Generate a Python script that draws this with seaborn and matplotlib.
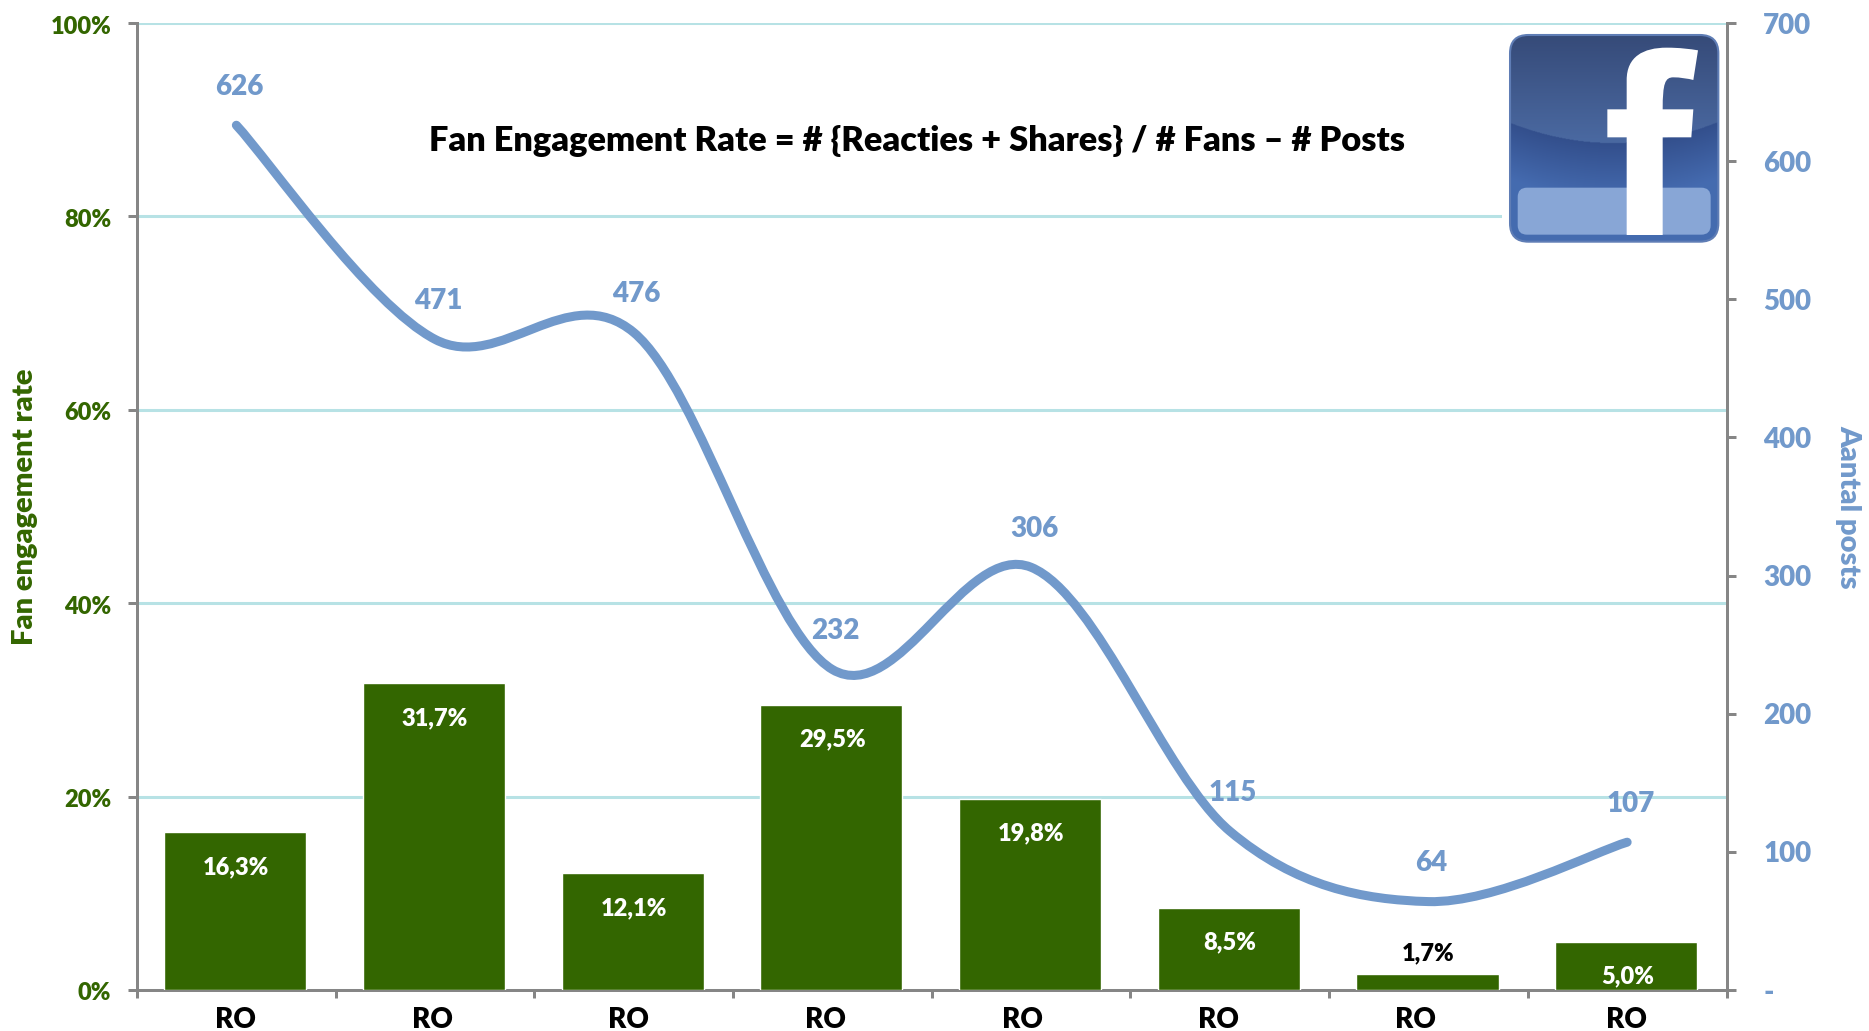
import numpy as np
import pandas as pd
import matplotlib
matplotlib.use("Agg")
import matplotlib.pyplot as plt
from matplotlib.path import Path
from matplotlib.patches import PathPatch, FancyBboxPatch
from matplotlib.transforms import ScaledTranslation
import seaborn as sns

# ---- data ----
categories = ["RO"] * 8
engagement = [16.3, 31.7, 12.1, 29.5, 19.8, 8.5, 1.7, 5.0]
engagement_labels = ["16,3%", "31,7%", "12,1%", "29,5%", "19,8%", "8,5%", "1,7%", "5,0%"]
posts = [626, 471, 476, 232, 306, 115, 64, 107]
left_ticks = [0, 20, 40, 60, 80, 100]
left_tick_labels = ["0%", "20%", "40%", "60%", "80%", "100%"]
right_ticks = [0, 100, 200, 300, 400, 500, 600, 700]
right_tick_labels = ["-", "100", "200", "300", "400", "500", "600", "700"]
title = "Fan Engagement Rate = # {Reacties + Shares} / # Fans \u2013 # Posts"
left_label = "Fan engagement rate"
right_label = "Aantal posts"

# ---- style ----
W, H = 1869, 1031
GREEN = "#336600"
BLUE = "#7199CB"
AXIS = "#868686"
GRID = "#B7E2E5"
PX = 0.72
WEIGHT = "heavy"
sns.set_theme(style="white")
plt.rcParams["font.family"] = ["Lato", "DejaVu Sans"]
plt.rcParams["font.weight"] = WEIGHT

fig = plt.figure(figsize=(W / 100, H / 100), dpi=100, facecolor="white")
x0, x1, ytop, ybot = 137, 1726.5, 23, 990
ax = fig.add_axes([x0 / W, 1 - ybot / H, (x1 - x0) / W, (ybot - ytop) / H])

positions = np.arange(len(categories))
df = pd.DataFrame({"pos": positions, "rate": engagement})
sns.barplot(data=df, x="pos", y="rate", native_scale=True, color=GREEN, saturation=1,
            width=0.715, ax=ax, zorder=3)
for bar in ax.patches:
    bar.set_x(bar.get_x() - 0.005)
ax.set_xlim(-0.5, 7.5)
ax.set_ylim(0, 100)
ax.set_xlabel("")
ax.set_ylabel("")
ax.set_yticks(left_ticks, left_tick_labels)
ax.set_xticks(np.arange(-0.5, 8, 1), [""] * 9)
ax.grid(axis="y", color=GRID, lw=2.2)
ax.set_axisbelow(True)
ax.tick_params(axis="y", length=9 * PX, width=3 * PX, color=AXIS, labelcolor=GREEN,
               labelsize=17, pad=12, left=True)
ax.tick_params(axis="x", length=8 * PX, width=3 * PX, color=AXIS, bottom=True)
shift_down = ScaledTranslation(0, -1.5 / 100, fig.dpi_scale_trans)
for lab in ax.get_yticklabels():
    lab.set_transform(lab.get_transform() + shift_down)
for s in ("left", "bottom"):
    ax.spines[s].set_color(AXIS)
    ax.spines[s].set_linewidth(3 * PX)
for s in ("top", "right"):
    ax.spines[s].set_visible(False)

fig.text(25 / W, 1 - 507 / H, left_label, rotation=90, ha="center", va="center",
         color=GREEN, fontsize=21, fontweight=WEIGHT)

# value labels on bars
for p, v, lab in zip(positions, engagement, engagement_labels):
    if v < 3:
        ax.annotate(lab, (p, v), xytext=(0, 20 * PX), textcoords="offset points", ha="center",
                    va="center", color="black", fontsize=17, zorder=6)
    else:
        ax.annotate(lab, (p, v), xytext=(0, -35 * PX), textcoords="offset points", ha="center",
                    va="center", color="white", fontsize=17, zorder=6)

# category labels: evenly spread text boxes as in the source, last one centred on its bar
label_shift_px = [0, -2, -4, -6, -8, -10, -12, 0]
for p, c, dx in zip(positions, categories, label_shift_px):
    ax.annotate(c, (p, 0), xytext=((dx - 1) * PX, -29.5 * PX), textcoords="offset points", ha="center",
                va="center", color="black", fontsize=20, annotation_clip=False)

# secondary axis with smoothed line
ax2 = ax.twinx()
ax2.set_ylim(0, 700)
ax2.set_yticks(right_ticks, right_tick_labels)
ax2.grid(False)
ax2.tick_params(axis="y", right=True, length=9 * PX, width=3 * PX, color=AXIS, labelcolor=BLUE,
                labelsize=20, pad=20)
for s in ("left", "bottom", "top"):
    ax2.spines[s].set_visible(False)
ax2.spines["right"].set_color(AXIS)
ax2.spines["right"].set_linewidth(3 * PX)

P = np.column_stack([positions, posts]).astype(float)
verts = [P[0]]
codes = [Path.MOVETO]
n = len(P)
for i in range(n - 1):
    a = P[max(i - 1, 0)]
    b = P[i]
    c = P[i + 1]
    d = P[min(i + 2, n - 1)]
    verts += [b + (c - a) / 6, c - (d - b) / 6, c]
    codes += [Path.CURVE4] * 3
ax2.add_patch(PathPatch(Path(verts, codes), fill=False, edgecolor=BLUE, lw=6.5,
                        capstyle="round", joinstyle="round", zorder=4))
for p, v in zip(positions, posts):
    ax2.annotate(str(v), (p, v), xytext=(3 * PX, 38.5 * PX), textcoords="offset points",
                 ha="center", va="center", color=BLUE, fontsize=20, zorder=6)

fig.text(1848 / W, 1 - 507 / H, right_label, rotation=270, ha="center", va="center",
         color=BLUE, fontsize=21, fontweight=WEIGHT)
fig.text(917 / W, 1 - 141 / H, title, ha="center", va="center", color="black",
         fontsize=24.75, fontweight=WEIGHT)

# logo, drawn in the upper-right corner (coordinates are zoom-crop pixels)
lg = fig.add_axes([1501.7 / W, 1 - 250 / H, 224.3 / W, 225 / H], facecolor="white", zorder=5)
lg.set_xlim(65, 738)
lg.set_ylim(750, 75)
lg.axis("off")
lg.add_patch(plt.Rectangle((65, 75), 673, 675, color="white", zorder=0))
yy, xx = np.mgrid[100:730:315j, 85:720:320j]
arc = 365 + 65 * (1 - ((xx - 400) / 320) ** 2)
top_t = np.clip((yy - 100) / 320, 0, 1)
low_t = np.clip((yy - arc) / 170, 0, 1)
c_top0, c_top1 = np.array([0.21, 0.29, 0.47]), np.array([0.29, 0.41, 0.63])
c_low0, c_low1 = np.array([0.20, 0.31, 0.55]), np.array([0.27, 0.42, 0.69])
img = np.where((yy < arc)[..., None],
               c_top0 + (c_top1 - c_top0) * top_t[..., None],
               c_low0 + (c_low1 - c_low0) * low_t[..., None])
im = lg.imshow(img, extent=(85, 720, 730, 100), aspect="auto", zorder=1, interpolation="bilinear")
lg.set_xlim(65, 738)
lg.set_ylim(750, 75)
clip = FancyBboxPatch((125, 140), 555, 550, boxstyle="round,pad=35,rounding_size=55",
                      transform=lg.transData, fc="none", ec="#5F7DB5", lw=1.5, zorder=2)
lg.add_patch(clip)
im.set_clip_path(clip)
lg.add_patch(FancyBboxPatch((135, 585), 535, 97, boxstyle="round,pad=22,rounding_size=28",
                            fc="#88A6D6", ec="none", zorder=3))
f_verts = [(440, 705), (440, 412), (382, 412), (382, 328), (440, 328), (440, 240),
           (440, 170), (490, 143), (560, 143), (600, 143), (630, 147), (654, 151),
           (640, 240), (625, 236), (600, 232), (580, 232), (555, 232), (548, 250),
           (548, 328), (640, 328), (634, 412), (548, 412), (548, 705), (440, 705)]
f_codes = [Path.MOVETO, Path.LINETO, Path.LINETO, Path.LINETO, Path.LINETO, Path.LINETO,
           Path.CURVE4, Path.CURVE4, Path.CURVE4, Path.CURVE4, Path.CURVE4, Path.CURVE4,
           Path.LINETO, Path.CURVE4, Path.CURVE4, Path.CURVE4, Path.CURVE4, Path.CURVE4,
           Path.LINETO, Path.LINETO, Path.LINETO, Path.LINETO, Path.LINETO, Path.CLOSEPOLY]
lg.add_patch(PathPatch(Path(f_verts, f_codes), fc="white", ec="none", zorder=4))

fig.savefig("out.png", dpi=100, facecolor="white")
